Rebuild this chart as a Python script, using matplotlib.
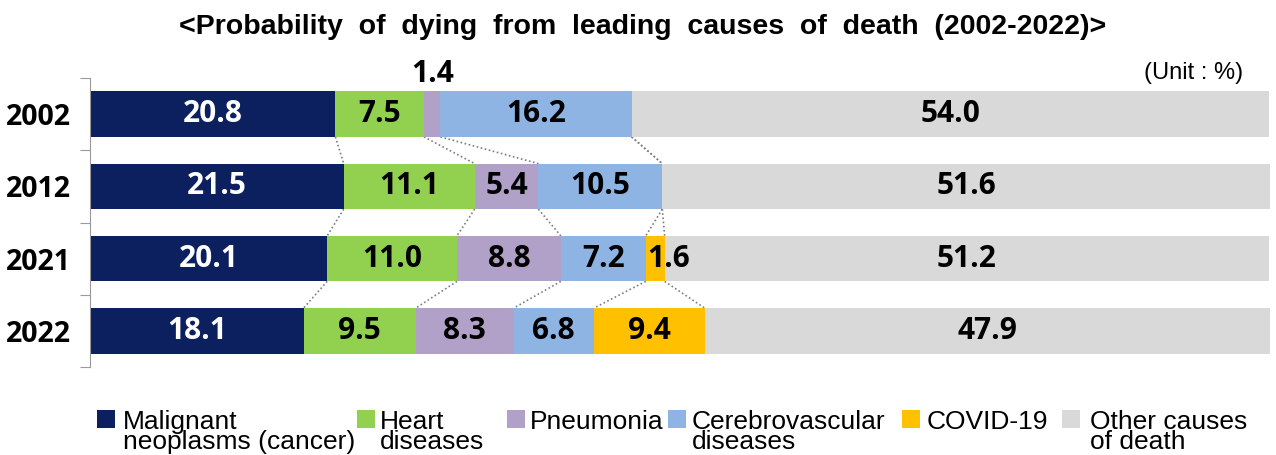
import matplotlib.pyplot as plt
from matplotlib.patches import Rectangle
import numpy as np

# data (unit: %)
years = ['2002', '2012', '2021', '2022']
causes = ['Malignant\nneoplasms (cancer)', 'Heart\ndiseases', 'Pneumonia',
          'Cerebrovascular\ndiseases', 'COVID-19', 'Other causes\nof death']
cancer = [20.8, 21.5, 20.1, 18.1]
heart = [7.5, 11.1, 11.0, 9.5]
pneumonia = [1.4, 5.4, 8.8, 8.3]
cerebro = [16.2, 10.5, 7.2, 6.8]
covid = [0.0, 0.0, 1.6, 9.4]
other = [54.0, 51.6, 51.2, 47.9]

colors = ['#0c1f5e', '#92d050', '#b1a0c7', '#8db4e2', '#ffc000', '#d9d9d9']
series = [cancer, heart, pneumonia, cerebro, covid, other]

W, H = 1276, 455
fig = plt.figure(figsize=(W / 100, H / 100), dpi=100)
ax = fig.add_axes([90 / W, 1 - 367 / H, 1180 / W, 289 / H])

num_font = dict(family='Open Sans', fontweight='bold', fontsize=21.5)
bar_h = 0.63
y = np.arange(len(years))
left = np.zeros(len(years))
cums = []
for k, vals in enumerate(series):
    vals = np.array(vals)
    ax.barh(y, vals, left=left, height=bar_h, color=colors[k], linewidth=0, zorder=2)
    for i, v in enumerate(vals):
        if v <= 0:
            continue
        tc = 'white' if k == 0 else 'black'
        if k == 2 and v < 2:
            # too narrow -> above the bar
            ax.text(left[i] + v / 2, i - bar_h / 2 - 0.03, f'{v:.1f}', ha='center',
                    va='bottom', color='black', **num_font)
        elif k == 4 and v < 2:
            ax.text(left[i] + 0.1, i, f'{v:.1f}', ha='left', va='center',
                    color='black', **num_font)
        else:
            ax.text(left[i] + v / 2, i, f'{v:.1f}', ha='center', va='center',
                    color=tc, **num_font)
    left = left + vals
    cums.append(left.copy())

# dotted connectors between segment ends
for k in range(5):
    c = cums[k]
    for i in range(len(years) - 1):
        ax.plot([c[i], c[i + 1]], [i + bar_h / 2, i + 1 - bar_h / 2],
                color='#7f7f7f', lw=1.2, linestyle=(0, (1, 1.5)), zorder=1)

ax.set_xlim(0, 100)
ax.set_ylim(3.5, -0.5)
ax.set_xticks([])
for s in ['top', 'right', 'bottom']:
    ax.spines[s].set_visible(False)
ax.spines['left'].set_color('#9a9a9a')
ax.set_yticks(np.arange(-0.5, 4.0, 1.0))
ax.set_yticklabels([])
ax.tick_params(axis='y', which='major', length=7, color='#9a9a9a', direction='out')
ax.set_yticks(y, minor=True)
ax.set_yticklabels(years, minor=True, fontfamily='Open Sans', fontweight='bold', fontsize=20.5)
ax.tick_params(axis='y', which='minor', length=0, pad=14)

fig.text(643 / W, 1 - 27 / H, '<Probability  of  dying  from  leading  causes  of  death  (2002-2022)>',
         ha='center', va='center', fontfamily='Liberation Sans', fontweight='bold', fontsize=20.5)
fig.text(1243 / W, 1 - 73 / H, '(Unit : %)', ha='right', va='center',
         fontfamily='Liberation Sans', fontsize=17)

# legend
hx = [97, 357, 507, 668, 902, 1062]
tx = [123, 380, 530, 692, 927, 1090]
for k, lab in enumerate(causes):
    fig.patches.append(Rectangle((hx[k] / W, 1 - 428 / H), 18 / W, 18 / H,
                                 transform=fig.transFigure, color=colors[k], lw=0))
    fig.text(tx[k] / W, 1 - 410 / H, lab, ha='left', va='top', fontfamily='Liberation Sans',
             fontsize=19, linespacing=0.8)

fig.savefig('out.png', dpi=100)
